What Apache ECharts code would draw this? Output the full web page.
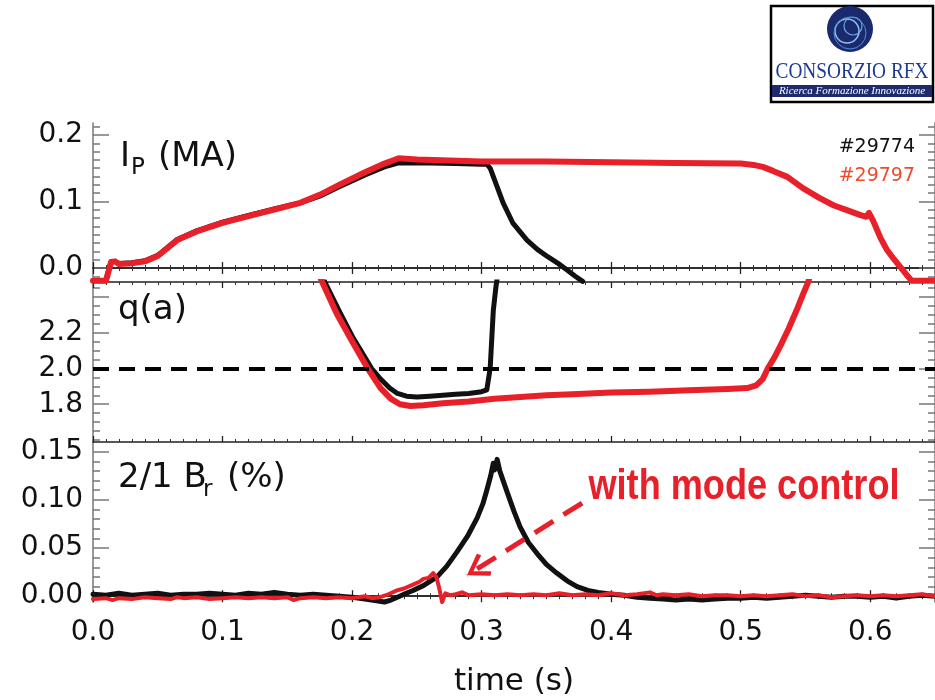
<!DOCTYPE html>
<html><head><meta charset="utf-8">
<script src="https://cdn.jsdelivr.net/npm/echarts@6/dist/echarts.min.js"></script>
<style>html,body{margin:0;padding:0;background:#fff}#c{width:935px;height:700px}</style>
</head><body><div id="c"></div>
<script>
// ---------- data ----------
const shotA = '#29774';
const shotB = '#29797';
const xTicks = [0, 0.1, 0.2, 0.3, 0.4, 0.5, 0.6];

// Plasma current Ip (MA)
const ip29774 = [
[0.000,-0.019],[0.010,-0.019],[0.012,-0.004],[0.014,0.010],[0.017,0.010],[0.020,0.007],[0.030,0.008],[0.040,0.011],[0.050,0.019],[0.065,0.043],[0.080,0.056],[0.100,0.069],[0.120,0.079],[0.140,0.089],[0.160,0.098],[0.175,0.108],[0.190,0.122],[0.210,0.140],[0.225,0.152],[0.236,0.158],[0.260,0.158],[0.280,0.157],[0.300,0.156],[0.304,0.156],[0.3066,0.150],[0.312,0.122],[0.3166,0.098],[0.324,0.068],[0.335,0.042],[0.343,0.028],[0.351,0.017],[0.359,0.007],[0.366,-0.003],[0.372,-0.012],[0.378,-0.020]];
const ip29797 = [
[0.000,-0.019],[0.010,-0.019],[0.012,-0.005],[0.014,0.009],[0.017,0.010],[0.020,0.006],[0.030,0.007],[0.040,0.010],[0.050,0.018],[0.065,0.042],[0.080,0.055],[0.100,0.068],[0.120,0.078],[0.140,0.088],[0.160,0.098],[0.175,0.110],[0.190,0.125],[0.210,0.144],[0.225,0.157],[0.236,0.165],[0.250,0.163],[0.300,0.160],[0.350,0.160],[0.400,0.159],[0.450,0.158],[0.500,0.157],[0.510,0.155],[0.517,0.152],[0.525,0.146],[0.536,0.137],[0.548,0.120],[0.561,0.105],[0.572,0.094],[0.582,0.087],[0.592,0.080],[0.597,0.077],[0.599,0.083],[0.602,0.072],[0.608,0.045],[0.613,0.027],[0.618,0.014],[0.623,0.002],[0.628,-0.010],[0.632,-0.019],[0.650,-0.019]];

// Edge safety factor q(a)
const q29774 = [
[0.176,2.53],[0.179,2.48],[0.190,2.32],[0.200,2.18],[0.210,2.06],[0.215,2.00],[0.222,1.94],[0.229,1.89],[0.235,1.86],[0.242,1.845],[0.250,1.84],[0.260,1.845],[0.270,1.85],[0.280,1.855],[0.290,1.86],[0.300,1.87],[0.304,1.88],[0.3066,2.00],[0.309,2.32],[0.311,2.45],[0.313,2.55]];
const q29797 = [
[0.174,2.53],[0.177,2.478],[0.188,2.306],[0.200,2.15],[0.212,2.00],[0.222,1.89],[0.230,1.83],[0.237,1.80],[0.245,1.79],[0.255,1.795],[0.270,1.805],[0.290,1.815],[0.310,1.83],[0.330,1.84],[0.350,1.85],[0.370,1.855],[0.400,1.865],[0.430,1.87],[0.460,1.878],[0.490,1.885],[0.505,1.89],[0.512,1.905],[0.517,1.94],[0.521,2.00],[0.526,2.06],[0.531,2.13],[0.537,2.22],[0.543,2.32],[0.548,2.41],[0.552,2.478],[0.555,2.55]];
const qThreshold = 2.0;

// 2/1 radial field Br (%)
const br29774 = [
[0.00,0.002],[0.01,0.001],[0.02,0.003],[0.03,0.001],[0.04,0.002],[0.05,0.003],[0.06,0.001],[0.07,0.002],[0.08,0.002],[0.09,0.003],[0.10,0.002],[0.11,0.001],[0.12,0.003],[0.13,0.002],[0.14,0.004],[0.15,0.002],[0.16,0.001],[0.17,0.002],[0.18,0.001],[0.19,0.000],[0.20,-0.001],[0.21,-0.003],[0.22,-0.005],[0.225,-0.006],[0.23,-0.004],[0.235,-0.001],[0.24,0.002],[0.247,0.006],[0.255,0.011],[0.2656,0.020],[0.273,0.031],[0.281,0.046],[0.289,0.062],[0.2965,0.081],[0.301,0.096],[0.304,0.110],[0.307,0.125],[0.309,0.138],[0.310,0.131],[0.312,0.142],[0.314,0.130],[0.3197,0.108],[0.325,0.088],[0.3297,0.072],[0.336,0.056],[0.343,0.044],[0.350,0.033],[0.358,0.024],[0.366,0.016],[0.3737,0.010],[0.382,0.006],[0.39,0.004],[0.40,0.002],[0.41,0.001],[0.42,-0.001],[0.43,-0.002],[0.44,-0.003],[0.45,-0.004],[0.46,-0.003],[0.47,-0.004],[0.48,-0.003],[0.49,-0.002],[0.50,-0.002],[0.51,-0.001],[0.52,-0.002],[0.53,-0.001],[0.54,0.000],[0.55,0.001],[0.56,0.000],[0.57,-0.001],[0.58,0.000],[0.59,0.000],[0.60,-0.001],[0.61,0.000],[0.62,-0.002],[0.63,0.000],[0.64,0.001],[0.65,0.000]];
const br29797 = [
[0.00,-0.003],[0.01,-0.002],[0.015,-0.004],[0.02,-0.002],[0.03,-0.003],[0.04,-0.001],[0.05,-0.002],[0.06,-0.003],[0.065,-0.001],[0.07,-0.002],[0.08,-0.001],[0.09,-0.003],[0.10,-0.002],[0.11,-0.001],[0.12,-0.002],[0.13,-0.001],[0.14,-0.002],[0.15,-0.001],[0.155,-0.004],[0.16,-0.002],[0.17,-0.001],[0.18,-0.002],[0.19,-0.001],[0.20,-0.002],[0.21,0.000],[0.215,-0.002],[0.2216,-0.001],[0.228,0.002],[0.2347,0.006],[0.24,0.008],[0.247,0.012],[0.252,0.015],[0.255,0.018],[0.259,0.019],[0.2626,0.024],[0.265,0.020],[0.267,0.010],[0.2695,-0.006],[0.272,0.003],[0.276,0.001],[0.28,0.002],[0.285,0.004],[0.29,0.001],[0.30,0.002],[0.31,0.001],[0.32,0.002],[0.33,0.001],[0.34,0.002],[0.35,0.001],[0.36,0.003],[0.37,0.001],[0.38,0.002],[0.39,0.001],[0.40,0.003],[0.41,0.001],[0.42,0.002],[0.43,0.004],[0.435,0.001],[0.44,0.002],[0.45,0.001],[0.46,0.002],[0.47,0.000],[0.48,0.001],[0.49,0.001],[0.50,0.000],[0.51,0.001],[0.52,0.000],[0.53,0.001],[0.54,0.002],[0.55,0.000],[0.56,0.001],[0.57,-0.001],[0.58,0.000],[0.59,0.001],[0.60,0.000],[0.61,0.001],[0.62,0.000],[0.63,0.001],[0.64,0.002],[0.65,0.000]];

// annotation arrow (data coords of panel 3)
const arrowFrom = [0.3776, 0.0967];
const arrowTo = [0.2885, 0.0215];

// y tick values / labels
const ipMajor = [0.0, 0.1, 0.2];
const ipLabels = [0.0, 0.1, 0.2];
const qMajor = [1.8, 2.0, 2.2, 2.4];
const qLabels = [1.8, 2.0, 2.2];
const brMajor = [0.00, 0.05, 0.10, 0.15];
const brLabels = [0.00, 0.05, 0.10, 0.15];

function steps(from, to, step) {
  const out = [];
  const n = Math.round((to - from) / step);
  for (let i = 0; i <= n; i++) out.push(+(from + i * step).toFixed(5));
  return out;
}
const ipMinor = steps(-0.0125, 0.2125, 0.0125);
const qMinor = steps(1.6, 2.45, 0.05);
const brMinor = steps(0.0, 0.15, 0.01);

// ---------- layout ----------
const L = 93, W = 842;
const grids = [
  {left: L, top: 123, width: W, height: 159},
  {left: L, top: 282, width: W, height: 160},
  {left: L, top: 442, width: W, height: 160}
];
const FONT = 'DejaVu Sans';
const RED = '#e8202a';
const BLK = '#111111';

function xAxes(g, labels) {
  const base = {
    gridIndex: g, type: 'value', min: 0, max: 0.65, interval: 0.1,
    axisLine: {show: true, lineStyle: {color: '#222', width: 1.5}},
    axisTick: {show: true, inside: true, length: 6, lineStyle: {color: '#222', width: 1.3}},
    minorTick: {show: true, splitNumber: 10, length: 3, lineStyle: {color: '#333', width: 1}},
    splitLine: {show: false}, minorSplitLine: {show: false}
  };
  const bottom = Object.assign({}, base, {
    position: 'bottom',
    axisLabel: labels ? {show: true, formatter: v => v.toFixed(1), fontFamily: FONT, fontSize: 28, color: '#111', margin: 17, showMaxLabel: false} : {show: false}
  });
  if (labels) {
    bottom.name = 'time (s)';
    bottom.nameLocation = 'middle';
    bottom.nameGap = 80;
    bottom.nameTextStyle = {fontFamily: FONT, fontSize: 31, color: '#111', verticalAlign: 'middle'};
  }
  const top = Object.assign({}, base, {position: 'top', axisLabel: {show: false}});
  return [bottom, top];
}

function yAxes(g, min, max, majors, labeled, minors, dec) {
  const mk = (pos, vals, len, lab, line) => ({
    gridIndex: g, type: 'value', position: pos, min: min, max: max,
    axisLine: {show: line, lineStyle: {color: '#777', width: 1.5}},
    axisTick: {show: true, inside: true, length: len, customValues: vals, lineStyle: {color: '#777', width: 1.5}},
    axisLabel: lab ? {show: true, customValues: labeled, formatter: v => (+v).toFixed(dec), fontFamily: FONT, fontSize: 28, color: '#111', margin: 10} : {show: false},
    splitLine: {show: false}
  });
  return [
    mk('left', majors, 16, true, true),
    mk('left', minors, 7, false, false),
    mk('right', majors, 16, false, true),
    mk('right', minors, 7, false, false)
  ];
}

const xAxis = [].concat(xAxes(0, false), xAxes(1, false), xAxes(2, true));
const yAxis = [].concat(
  yAxes(0, -0.021, 0.218, ipMajor, ipLabels, ipMinor, 1),
  yAxes(1, 1.59, 2.48, qMajor, qLabels, qMinor, 1),
  yAxes(2, -0.006, 0.16, brMajor, brLabels, brMinor, 2)
);

const lineSeries = (data, xi, yi, color, width, clip) => ({
  type: 'line', data: data, xAxisIndex: xi, yAxisIndex: yi,
  showSymbol: false, symbol: 'none', clip: clip, animation: false,
  lineStyle: {color: color, width: width, join: 'round', cap: 'round'},
  itemStyle: {color: color}
});

const chevron = 'path://M50,-80 L50.01,-80 L50,-80 Z M50,0 L100,68 L86,78 L50,26 L14,78 L0,68 Z';

const series = [
  lineSeries(ip29774, 0, 0, BLK, 5, false),
  lineSeries(ip29797, 0, 0, RED, 6, false),
  Object.assign(lineSeries(q29774, 2, 4, BLK, 5, true), {
    markLine: {silent: true, symbol: 'none', animation: false, z: 10,
      label: {show: false},
      lineStyle: {color: '#000', width: 4, type: [16, 10]},
      data: [{yAxis: qThreshold}]}
  }),
  lineSeries(q29797, 2, 4, RED, 6, true),
  lineSeries(br29774, 4, 8, BLK, 5, false),
  Object.assign(lineSeries(br29797, 4, 8, RED, 4, false), {
    markLine: {silent: true, animation: false, z: 10,
      symbol: ['none', chevron], symbolSize: [26, 46],
      label: {show: false},
      lineStyle: {color: RED, width: 5, type: [22, 12]},
      data: [[{coord: arrowFrom}, {coord: arrowTo}]]}
  })
];

const graphic = [
  // panel labels
  {type: 'text', x: 120, y: 157, style: {text: 'I', fontFamily: FONT, fontSize: 34, fill: '#111', align: 'left', verticalAlign: 'middle'}},
  {type: 'text', x: 131, y: 168, style: {text: 'P', fontFamily: FONT, fontSize: 23, fill: '#111', align: 'left', verticalAlign: 'middle'}},
  {type: 'text', x: 158, y: 157, style: {text: '(MA)', fontFamily: FONT, fontSize: 34, fill: '#111', align: 'left', verticalAlign: 'middle'}},
  {type: 'text', x: 118, y: 310, style: {text: 'q(a)', fontFamily: FONT, fontSize: 34, fill: '#111', align: 'left', verticalAlign: 'middle'}},
  {type: 'text', x: 118, y: 478, style: {text: '2/1 B', fontFamily: FONT, fontSize: 34, fill: '#111', align: 'left', verticalAlign: 'middle'}},
  {type: 'text', x: 203, y: 490, style: {text: 'r', fontFamily: FONT, fontSize: 23, fill: '#111', align: 'left', verticalAlign: 'middle'}},
  {type: 'text', x: 227, y: 478, style: {text: '(%)', fontFamily: FONT, fontSize: 34, fill: '#111', align: 'left', verticalAlign: 'middle'}},
  // shot legend
  {type: 'text', x: 915, y: 147, style: {text: shotA, fontFamily: FONT, fontSize: 19, fill: '#111', align: 'right', verticalAlign: 'middle'}},
  {type: 'text', x: 915, y: 176, style: {text: shotB, fontFamily: FONT, fontSize: 19, fill: '#f04a2a', align: 'right', verticalAlign: 'middle'}},
  // annotation
  {type: 'text', x: 744, y: 487, scaleX: 0.86, z: 20, style: {text: 'with mode control', fontFamily: 'Liberation Sans', fontWeight: 'bold', fontSize: 42, fill: RED, align: 'center', verticalAlign: 'middle'}},
  // logo
  {type: 'group', z: 30, children: [
    {type: 'rect', shape: {x: 771, y: 6, width: 162, height: 96}, style: {fill: '#fff', stroke: '#000', lineWidth: 2.5}},
    {type: 'circle', shape: {cx: 850, cy: 29, r: 23}, style: {fill: '#1b2a6e'}},
    {type: 'circle', shape: {cx: 847, cy: 31, r: 12}, style: {fill: 'none', stroke: '#8fc3ef', lineWidth: 1.5}},
    {type: 'circle', shape: {cx: 853, cy: 26, r: 9}, style: {fill: 'none', stroke: '#6aa8e4', lineWidth: 1.2}},
    {type: 'circle', shape: {cx: 850, cy: 33, r: 16}, style: {fill: 'none', stroke: '#4d8fd6', lineWidth: 1}},
    {type: 'text', x: 852, y: 72, scaleX: 0.84, style: {text: 'CONSORZIO RFX', fontFamily: 'Liberation Serif', fontSize: 23, fill: '#1f3a8f', align: 'center', verticalAlign: 'middle'}},
    {type: 'rect', shape: {x: 772, y: 85, width: 160, height: 12}, style: {fill: '#1d2b6e'}},
    {type: 'text', x: 852, y: 91.5, style: {text: 'Ricerca Formazione Innovazione', fontFamily: 'Liberation Serif', fontStyle: 'italic', fontSize: 11, fill: '#fff', align: 'center', verticalAlign: 'middle'}}
  ]}
];

const chart = echarts.init(document.getElementById('c'), null, {renderer: 'canvas'});
chart.setOption({
  animation: false,
  backgroundColor: '#fff',
  grid: grids,
  xAxis: xAxis,
  yAxis: yAxis,
  series: series,
  graphic: graphic
});
</script>
</body></html>
